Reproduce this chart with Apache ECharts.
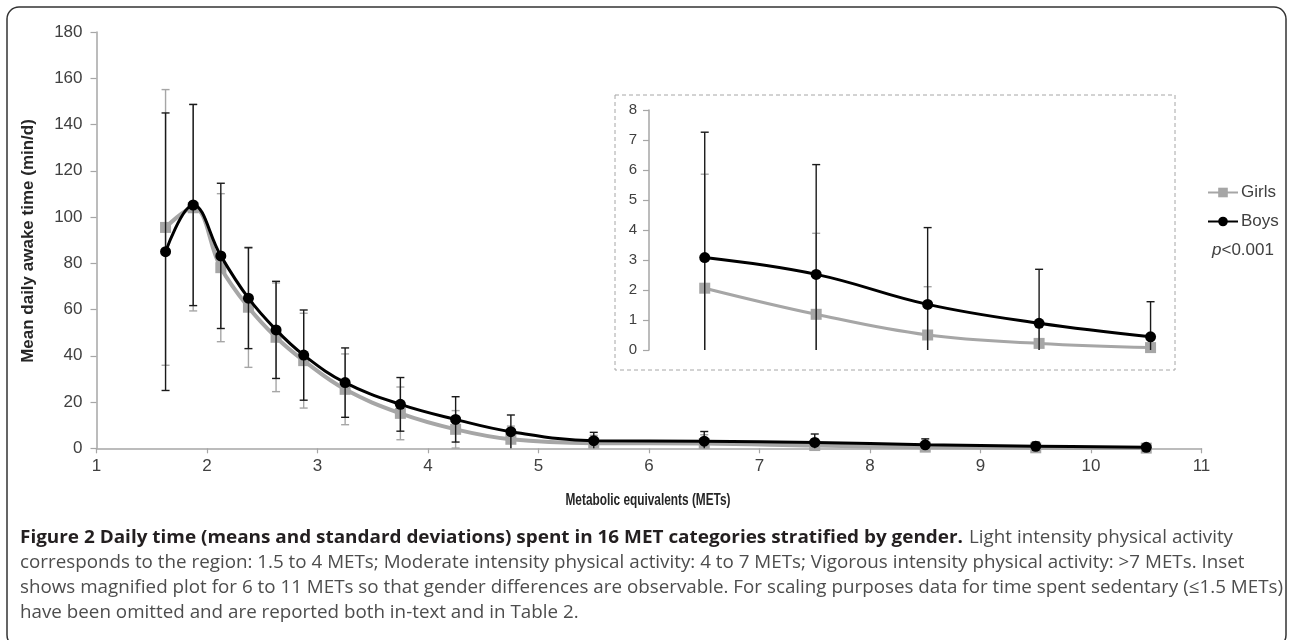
<!DOCTYPE html>
<html><head><meta charset="utf-8">
<script src="https://cdn.jsdelivr.net/npm/echarts@6/dist/echarts.min.js"></script>
<style>html,body{margin:0;padding:0;background:#fff}#c{width:1290px;height:640px}</style>
</head><body><div id="c"></div>
<script>
// ---- data ----
const metValues = [1.625, 1.875, 2.125, 2.375, 2.625, 2.875, 3.25, 3.75, 4.25, 4.75, 5.5, 6.5, 7.5, 8.5, 9.5, 10.5];
const girlsMean = [95.5, 104, 78.1, 61, 48, 37.9, 25.5, 15.1, 8.2, 3.9, 2.2, 2.06, 1.19, 0.5, 0.22, 0.08];
const girlsSD   = [59.6, 44.6, 32, 26, 23.5, 20.5, 15.3, 11.4, 8.1, 5.7, 3.4, 3.8, 2.7, 1.61, 0.7, 0.45];
const boysMean  = [85, 105.2, 83.2, 64.9, 51.2, 40.3, 28.4, 19, 12.5, 7.2, 3.3, 3.08, 2.52, 1.52, 0.89, 0.44];
const boysSD    = [60, 43.5, 31.4, 21.8, 21, 19.5, 15, 11.6, 9.8, 7.2, 3.6, 4.18, 3.66, 2.56, 1.8, 1.17];
const seriesNames = ['Girls', 'Boys'];
const insetStart = 11; // first category shown in the inset (6.5 METs)
const mainXRange = [1, 11, 1];
const mainYRange = [0, 180, 20];
const insetYRange = [0, 8, 1];
const xTitle = 'Metabolic equivalents (METs)';
const yTitle = 'Mean daily awake time (min/d)';
const pText = '<0.001';
const captionBold = 'Figure 2 Daily time (means and standard deviations) spent in 16 MET categories stratified by gender.';
const captionFirstRest = 'Light intensity physical activity';
const captionLines = [
  'corresponds to the region: 1.5 to 4 METs; Moderate intensity physical activity: 4 to 7 METs; Vigorous intensity physical activity: >7 METs. Inset',
  'shows magnified plot for 6 to 11 METs so that gender differences are observable. For scaling purposes data for time spent sedentary (\u22641.5 METs)',
  'have been omitted and are reported both in-text and in Table 2.'
];

// ---- styles ----
const GIRL = '#a6a6a6', BOY = '#000000', AXIS = '#a6a6a6', LBL = '#404040';
const FONT = '"Liberation Sans", Arial, sans-serif';
const CAPFONT = '"Open Sans", "Noto Sans", sans-serif';
const CAPSIZE = 18;

const pts = (means, from) => means.map((m, i) => [metValues[i], m]).slice(from);
const errs = (means, sds, from) => means.map((m, i) => [metValues[i], Math.max(0, m - sds[i]), m + sds[i]]).slice(from);

function errSeries(name, data, color, xi, yi, z) {
  return {
    type: 'custom', name: name, xAxisIndex: xi, yAxisIndex: yi, z: z, silent: true,
    encode: { x: 0, y: [1, 2] },
    data: data,
    renderItem: function (params, api) {
      const x = api.value(0), loV = api.value(1), hiV = api.value(2);
      const lo = api.coord([x, loV]), hi = api.coord([x, hiV]);
      const w = 8;
      const st = { stroke: color, lineWidth: 1.4 };
      const ch = [
        { type: 'line', shape: { x1: lo[0], y1: lo[1], x2: hi[0], y2: hi[1] }, style: st },
        { type: 'line', shape: { x1: hi[0] - w / 2, y1: hi[1], x2: hi[0] + w / 2, y2: hi[1] }, style: st }
      ];
      if (loV > 0) ch.push({ type: 'line', shape: { x1: lo[0] - w / 2, y1: lo[1], x2: lo[0] + w / 2, y2: lo[1] }, style: st });
      return { type: 'group', children: ch };
    }
  };
}
function lineSeries(name, data, color, width, symbol, xi, yi, z) {
  return {
    type: 'line', name: name, xAxisIndex: xi, yAxisIndex: yi, z: z, data: data,
    smooth: 0.4, symbol: symbol, symbolSize: 11, showSymbol: true,
    lineStyle: { color: color, width: width }, itemStyle: { color: color },
    emphasis: { disabled: true }, animation: false
  };
}
function yAx(gi, r, fs, margin) {
  return {
    type: 'value', gridIndex: gi, min: r[0], max: r[1], interval: r[2],
    axisLine: { show: true, lineStyle: { color: AXIS, width: 1.5 } },
    axisTick: { show: true, length: 6, lineStyle: { color: AXIS, width: 1.2 } },
    axisLabel: { color: LBL, fontSize: fs, fontFamily: FONT, margin: margin },
    splitLine: { show: false }
  };
}

const chart = echarts.init(document.getElementById('c'));

// fit caption / x-title widths to the original's narrow type
const cv = document.createElement('canvas').getContext('2d');
function tw(font, t) { cv.font = font; return cv.measureText(t).width; }
const capBoldFont = 'bold ' + CAPSIZE + 'px ' + CAPFONT;
const capFont = CAPSIZE + 'px ' + CAPFONT;
const sBold = 943 / tw(capBoldFont, captionBold);
const sNorm = 1263 / tw(capFont, captionLines[1]);
const xTitleFont = 'bold 17px ' + FONT;
const sXT = 165 / tw(xTitleFont, xTitle);

const capEls = [
  { type: 'text', x: 20, y: 538, scaleX: sBold, silent: true,
    style: { text: captionBold, font: capBoldFont, fill: '#231f20', verticalAlign: 'middle' } },
  { type: 'text', x: 20 + 943 + 6, y: 538, scaleX: sNorm, silent: true,
    style: { text: captionFirstRest, font: capFont, fill: '#4d4d4d', verticalAlign: 'middle' } }
].concat(captionLines.map((t, i) => ({
  type: 'text', x: 20, y: 563 + i * 25, scaleX: sNorm, silent: true,
  style: { text: t, font: capFont, fill: '#4d4d4d', verticalAlign: 'middle' }
})));

const option = {
  animation: false,
  backgroundColor: '#fff',
  grid: [
    { left: 96.5, right: 88.5, top: 32, bottom: 191.7 },
    { left: 649, width: 535, top: 110, height: 240 }
  ],
  xAxis: [
    {
      type: 'value', gridIndex: 0, min: mainXRange[0], max: mainXRange[1], interval: mainXRange[2],
      axisLine: { show: true, onZero: false, lineStyle: { color: AXIS, width: 1.5 } },
      axisTick: { show: true, length: 5, lineStyle: { color: AXIS, width: 1.2 } },
      axisLabel: { color: LBL, fontSize: 17, fontFamily: FONT, margin: 10 },
      splitLine: { show: false }
    },
    { type: 'value', gridIndex: 1, min: 6, max: 10.8, show: false, splitLine: { show: false } }
  ],
  yAxis: [yAx(0, mainYRange, 17, 14), yAx(1, insetYRange, 15, 12)],
  legend: {
    data: seriesNames, orient: 'vertical', left: 1202, top: 179,
    itemWidth: 30, itemHeight: 12, itemGap: 12,
    textStyle: { color: LBL, fontSize: 17, fontFamily: FONT, padding: [0, 0, 0, -2] },
    selectedMode: false
  },
  series: [
    errSeries('gErr', errs(girlsMean, girlsSD, 0), GIRL, 0, 0, 1),
    lineSeries(seriesNames[0], pts(girlsMean, 0), GIRL, 4, 'rect', 0, 0, 2),
    errSeries('bErr', errs(boysMean, boysSD, 0), '#1a1a1a', 0, 0, 3),
    lineSeries(seriesNames[1], pts(boysMean, 0), BOY, 3, 'circle', 0, 0, 4),
    errSeries('gErr2', errs(girlsMean, girlsSD, insetStart), GIRL, 1, 1, 1),
    lineSeries(seriesNames[0], pts(girlsMean, insetStart), GIRL, 3, 'rect', 1, 1, 2),
    errSeries('bErr2', errs(boysMean, boysSD, insetStart), '#1a1a1a', 1, 1, 3),
    lineSeries(seriesNames[1], pts(boysMean, insetStart), BOY, 3, 'circle', 1, 1, 4)
  ],
  graphic: [
    { type: 'rect', shape: { x: 7, y: 7, width: 1279, height: 640, r: 12 }, style: { fill: 'none', stroke: '#333', lineWidth: 1.5 }, silent: true, z: 100 },
    { type: 'rect', shape: { x: 615, y: 95, width: 560, height: 275 }, style: { fill: 'none', stroke: '#a6a6a6', lineWidth: 1, lineDash: [4, 3] }, silent: true },
    { type: 'text', x: 648, y: 500, scaleX: sXT, originX: 0, silent: true, style: { text: xTitle, font: xTitleFont, fill: '#262626', align: 'center', verticalAlign: 'middle' } },
    { type: 'text', x: 28, y: 241, rotation: Math.PI / 2, silent: true, style: { text: yTitle, font: 'bold 17px ' + FONT, fill: '#262626', align: 'center', verticalAlign: 'middle' } },
    { type: 'text', x: 1212, y: 250, silent: true, style: {
      text: '{i|p}{n|' + pText + '}', verticalAlign: 'middle',
      rich: { i: { font: 'italic 17px ' + FONT, fill: LBL }, n: { font: '17px ' + FONT, fill: LBL } } } }
  ].concat(capEls)
};
chart.setOption(option);
</script></body></html>
